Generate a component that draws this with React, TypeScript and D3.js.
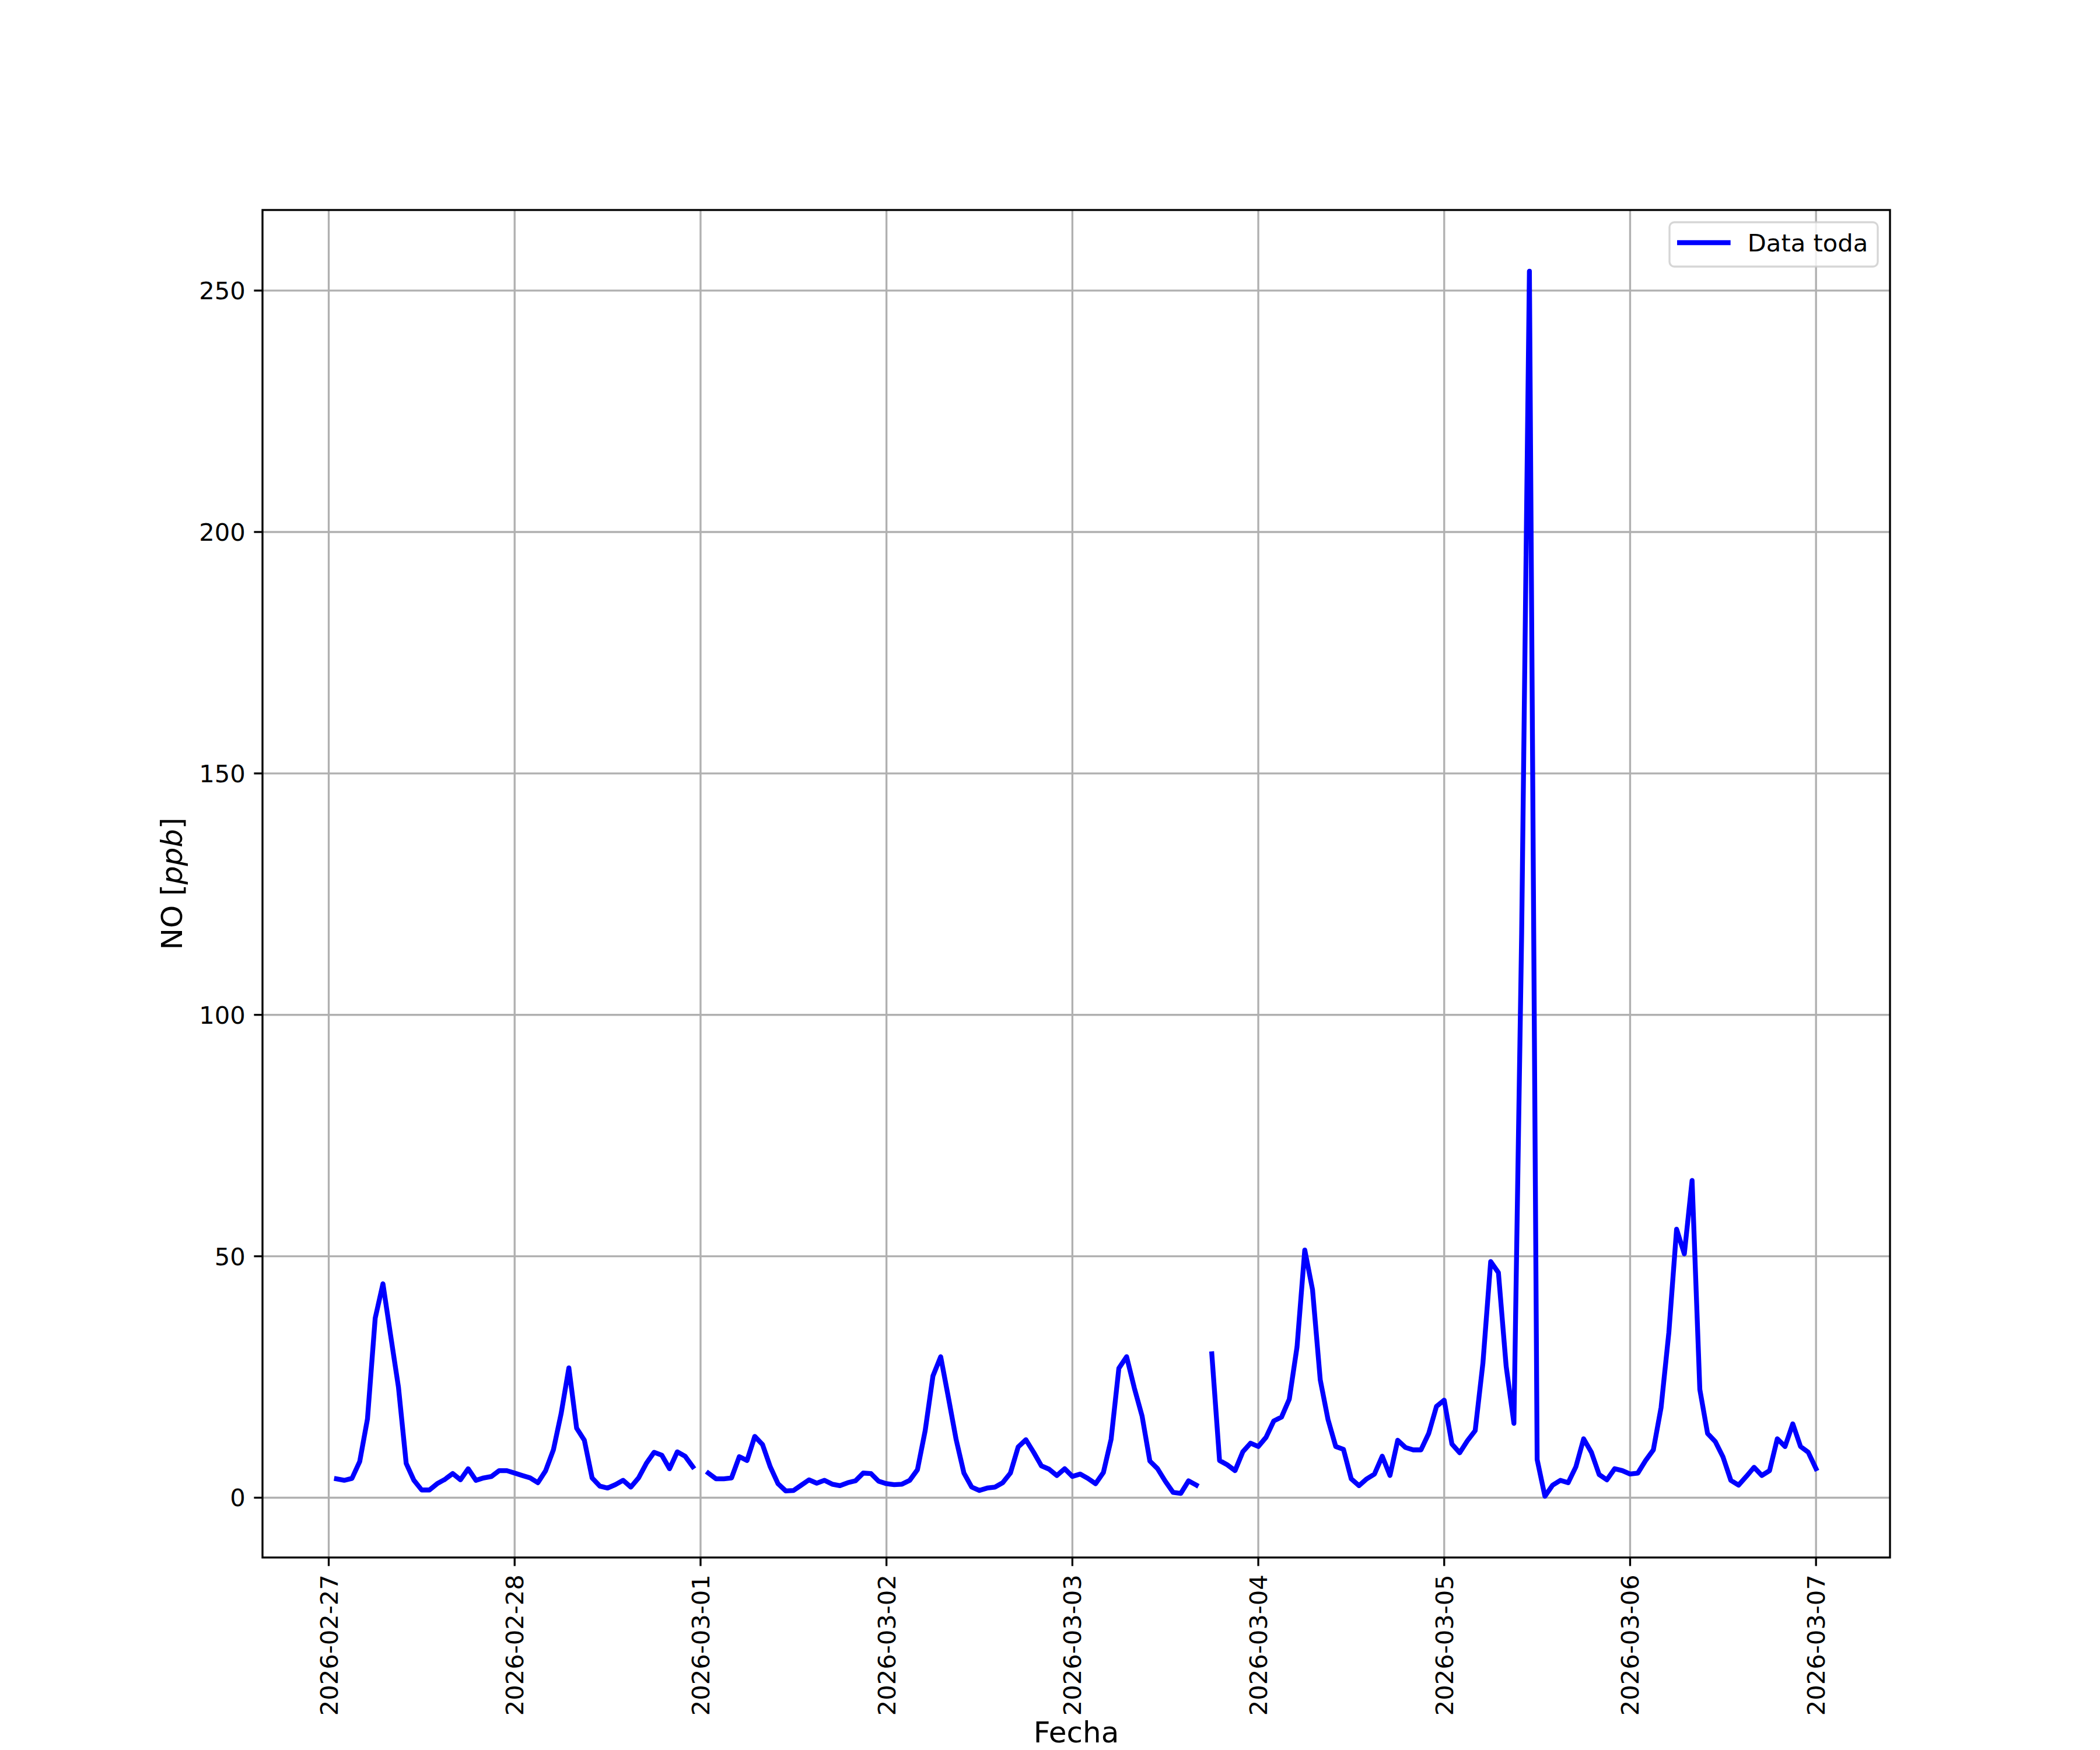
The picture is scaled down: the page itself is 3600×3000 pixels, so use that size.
import React from "react";
import * as d3 from "d3";

// Hourly NO values [ppb], starting 2026-02-27 01:00 (null = missing)
const day1 = [3.9, 3.6, 4.0, 7.5, 16.3, 37.2, 44.3, 33.5, 22.9, 7.1, 3.6, 1.6, 1.6, 2.9, 3.8, 5.0, 3.7, 6.0, 3.6, 4.1, 4.4, 5.6, 5.6, 5.1];
const day2 = [4.6, 4.1, 3.1, 5.6, 9.9, 17.4, 26.9, 14.4, 11.9, 4.1, 2.4, 2.0, 2.7, 3.6, 2.2, 4.1, 7.1, 9.4, 8.8, 6.0, 9.5, 8.6, 6.4, null];
const day3 = [5.1, 3.9, 3.9, 4.1, 8.5, 7.7, 12.7, 11.0, 6.4, 2.9, 1.4, 1.5, 2.6, 3.7, 3.0, 3.6, 2.8, 2.5, 3.1, 3.5, 5.1, 5.0, 3.4, 2.9];
const day4 = [2.7, 2.8, 3.6, 5.8, 13.9, 25.2, 29.2, 20.7, 12.0, 5.1, 2.2, 1.5, 2.0, 2.2, 3.1, 5.1, 10.5, 12.0, 9.4, 6.6, 5.9, 4.6, 6.0, 4.4];
const day5 = [4.9, 4.0, 2.9, 5.2, 12.1, 26.8, 29.2, 22.7, 16.9, 7.6, 6.0, 3.4, 1.1, 0.9, 3.5, 2.6, null, 29.8, 7.7, 6.8, 5.6, 9.5, 11.3, 10.6];
const day6 = [12.5, 15.9, 16.7, 20.4, 31.2, 51.3, 43.1, 24.4, 16.2, 10.6, 10.0, 3.9, 2.5, 3.9, 4.9, 8.6, 4.6, 11.9, 10.4, 9.9, 9.9, 13.3, 18.9, 20.2];
const day7 = [11.1, 9.3, 11.8, 13.9, 27.9, 48.9, 46.6, 27.2, 15.4, 117, 254, 7.9, 0.3, 2.6, 3.6, 3.1, 6.4, 12.2, 9.4, 4.8, 3.7, 6.0, 5.6, 4.9];
const day8 = [5.1, 7.7, 9.9, 18.7, 34.2, 55.6, 50.5, 65.7, 22.4, 13.3, 11.6, 8.4, 3.6, 2.6, 4.4, 6.3, 4.6, 5.6, 12.2, 10.6, 15.3, 10.6, 9.4, 6.0];

const yTicks = [0, 50, 100, 150, 200, 250];
const xTickDays = [27, 28, 29, 30, 31, 32, 33, 34, 35]; // days offset from Feb (local), i.e. 02-27 .. 03-07
const seriesLabel = "Data toda";

type Pt = { t: Date; v: number | null };

const values: (number | null)[] = [...day1, ...day2, ...day3, ...day4, ...day5, ...day6, ...day7, ...day8];
const data: Pt[] = values.map((v, i) => ({ t: new Date(2026, 1, 27, i + 1), v }));

export default function App() {
  const W = 3600, H = 3000;
  const L = 450, R = 3240, T = 360, B = 2670;
  const font = "DejaVu Sans";
  const fs = 41.67;
  const lw = 3.33;

  const t0 = +data[0].t, t1 = +data[data.length - 1].t;
  const span = t1 - t0;
  const x = d3.scaleTime().domain([new Date(t0 - 0.05 * span), new Date(t1 + 0.05 * span)]).range([L, R]);
  const vals = data.filter(d => d.v !== null).map(d => d.v as number);
  const vmin = d3.min(vals)!, vmax = d3.max(vals)!;
  const vr = vmax - vmin;
  const y = d3.scaleLinear().domain([vmin - 0.05 * vr, vmax + 0.05 * vr]).range([B, T]);

  const line = d3.line<Pt>().defined(d => d.v !== null).x(d => x(d.t)).y(d => y(d.v as number));
  const xTicks = xTickDays.map(d => new Date(2026, 1, d));
  const fmt = d3.timeFormat("%Y-%m-%d");

  const legX = 2862, legY = 381, legW = 357, legH = 76;

  return (
    <svg width={W} height={H} viewBox={`0 0 ${W} ${H}`} style={{ position: "absolute", left: 0, top: 0, background: "#fff" }} fontFamily={font}>
      <rect x={0} y={0} width={W} height={H} fill="#fff" />
      <defs>
        <clipPath id="plotclip">
          <rect x={L} y={T} width={R - L} height={B - T} />
        </clipPath>
      </defs>
      {/* grid */}
      <g stroke="#b0b0b0" strokeWidth={lw}>
        {xTicks.map((t, i) => (
          <line key={"gx" + i} x1={x(t)} x2={x(t)} y1={T} y2={B} />
        ))}
        {yTicks.map((v, i) => (
          <line key={"gy" + i} x1={L} x2={R} y1={y(v)} y2={y(v)} />
        ))}
      </g>
      {/* data line */}
      <path d={line(data) || ""} fill="none" stroke="#0000ff" strokeWidth={8.33} strokeLinejoin="round" strokeLinecap="square" clipPath="url(#plotclip)" />
      {/* spines */}
      <rect x={L} y={T} width={R - L} height={B - T} fill="none" stroke="#000" strokeWidth={lw} strokeLinejoin="miter" />
      {/* x ticks */}
      <g>
        {xTicks.map((t, i) => (
          <g key={"xt" + i}>
            <line x1={x(t)} x2={x(t)} y1={B} y2={B + 14.6} stroke="#000" strokeWidth={lw} />
            <text transform={`translate(${x(t)},${B + 29.2}) rotate(-90)`} textAnchor="end" dy="0.36em" fontSize={fs} fill="#000">
              {fmt(t)}
            </text>
          </g>
        ))}
      </g>
      {/* y ticks */}
      <g>
        {yTicks.map((v, i) => (
          <g key={"yt" + i}>
            <line x1={L - 14.6} x2={L} y1={y(v)} y2={y(v)} stroke="#000" strokeWidth={lw} />
            <text x={L - 29.2} y={y(v)} dy="0.36em" textAnchor="end" fontSize={fs} fill="#000">
              {v}
            </text>
          </g>
        ))}
      </g>
      {/* axis labels */}
      <text x={(L + R) / 2} y={2987} textAnchor="middle" fontSize={50} fill="#000">Fecha</text>
      <text transform={`translate(312,${(T + B) / 2}) rotate(-90)`} textAnchor="middle" fontSize={50} fill="#000">
        NO [<tspan fontStyle="italic">ppb</tspan>]
      </text>
      {/* legend */}
      <rect x={legX} y={legY} width={legW} height={legH} rx={8.3} ry={8.3} fill="#fff" fillOpacity={0.8} stroke="#cccccc" strokeOpacity={0.8} strokeWidth={lw} />
      <line x1={2879.2} x2={2962.5} y1={416} y2={416} stroke="#0000ff" strokeWidth={8.33} strokeLinecap="square" />
      <text x={2995.8} y={431} fontSize={fs} fill="#000">{seriesLabel}</text>
    </svg>
  );
}
